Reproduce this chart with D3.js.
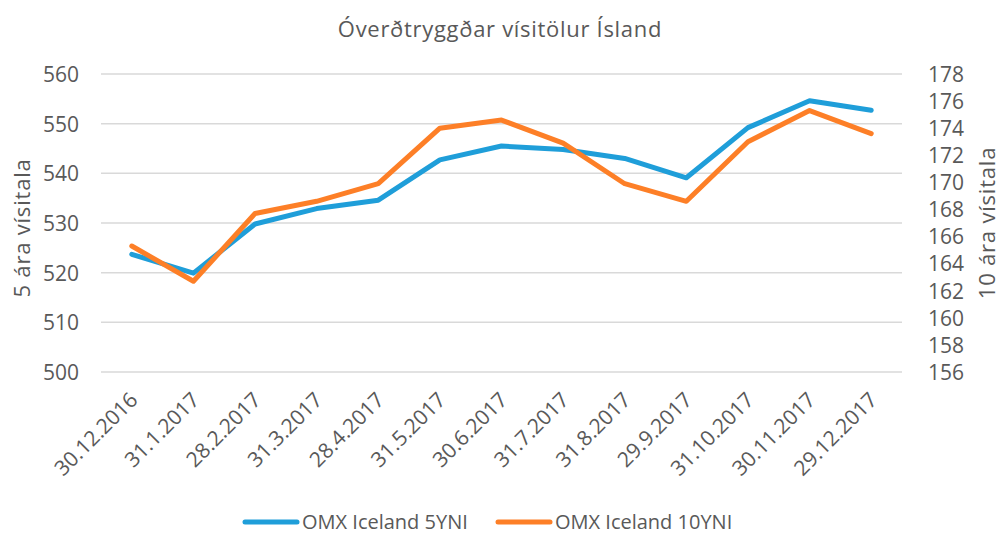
<!DOCTYPE html>
<html>
<head>
<meta charset="utf-8">
<script src="https://cdn.jsdelivr.net/npm/d3@7"></script>
<style>
  body { margin: 0; background: #fff; }
  text { font-family: "Open Sans", sans-serif; fill: #595959; }
</style>
</head>
<body>
<svg id="chart" width="1000" height="535"></svg>
<script>
const dates = ['30.12.2016', '31.1.2017', '28.2.2017', '31.3.2017', '28.4.2017', '31.5.2017',
    '30.6.2017', '31.7.2017', '31.8.2017', '29.9.2017', '31.10.2017', '30.11.2017', '29.12.2017'];

// 5 ára vísitala (left axis)
const omx5 = [523.7, 519.9, 529.8, 532.9, 534.6, 542.7, 545.5, 544.8, 543.0, 539.1, 549.2, 554.6, 552.7];
// 10 ára vísitala (right axis)
const omx10 = [165.3, 162.7, 167.7, 168.6, 169.9, 174.0, 174.6, 172.9, 169.9, 168.6, 173.0, 175.3, 173.6];

const leftTicks = [500, 510, 520, 530, 540, 550, 560];
const rightTicks = [156, 158, 160, 162, 164, 166, 168, 170, 172, 174, 176, 178];

const seriesNames = ['OMX Iceland 5YNI', 'OMX Iceland 10YNI'];
const colors = ['#1f9ed9', '#fd7f27'];

const svg = d3.select('#chart');
const margin = { left: 101, right: 98, top: 74, bottom: 163 };
const width = 1000 - margin.left - margin.right;
const height = 535 - margin.top - margin.bottom;

const g = svg.append('g').attr('transform', `translate(${margin.left},${margin.top})`);

const x = d3.scaleBand().domain(dates).range([0, width]);
const yLeft = d3.scaleLinear().domain([500, 560]).range([height, 0]);
const yRight = d3.scaleLinear().domain([156, 178]).range([height, 0]);

// gridlines
g.selectAll('.grid')
    .data(leftTicks)
    .enter()
    .append('line')
    .attr('x1', 0)
    .attr('x2', width)
    .attr('y1', d => yLeft(d))
    .attr('y2', d => yLeft(d))
    .attr('stroke', '#d9d9d9')
    .attr('stroke-width', 1.5);

// left axis
const axL = g.append('g')
    .call(d3.axisLeft(yLeft).tickValues(leftTicks).tickSize(0).tickPadding(22));
axL.select('.domain').remove();
axL.selectAll('text').attr('font-size', '21px').attr('dy', '0.35em');

// right axis
const axR = g.append('g')
    .attr('transform', `translate(${width},0)`)
    .call(d3.axisRight(yRight).tickValues(rightTicks).tickSize(0).tickPadding(26));
axR.select('.domain').remove();
axR.selectAll('text').attr('font-size', '21px').attr('dy', '0.35em');

// bottom axis
const axB = g.append('g')
    .attr('transform', `translate(0,${height})`)
    .call(d3.axisBottom(x).tickSize(0).tickPadding(0));
axB.select('.domain').remove();
axB.selectAll('text')
    .attr('font-size', '21px')
    .attr('text-anchor', 'end')
    .attr('dy', '0.35em')
    .attr('transform', 'translate(2,24) rotate(-45)');

axL.selectAll('text').style('fill', '#595959');
axR.selectAll('text').style('fill', '#595959');
axB.selectAll('text').style('fill', '#595959');

// lines
const lineL = d3.line()
    .x((d, i) => x(dates[i]) + x.bandwidth() / 2)
    .y(d => yLeft(d));
const lineR = d3.line()
    .x((d, i) => x(dates[i]) + x.bandwidth() / 2)
    .y(d => yRight(d));

g.append('path')
    .datum(omx5)
    .attr('fill', 'none')
    .attr('stroke', colors[0])
    .attr('stroke-width', 5)
    .attr('stroke-linejoin', 'round')
    .attr('stroke-linecap', 'round')
    .attr('d', lineL);

g.append('path')
    .datum(omx10)
    .attr('fill', 'none')
    .attr('stroke', colors[1])
    .attr('stroke-width', 5)
    .attr('stroke-linejoin', 'round')
    .attr('stroke-linecap', 'round')
    .attr('d', lineR);

// title
svg.append('text')
    .attr('x', 500)
    .attr('y', 37)
    .attr('text-anchor', 'middle')
    .attr('font-size', '22px')
    .attr('letter-spacing', '0.7px')
    .text('Óverðtryggðar vísitölur Ísland');

// axis titles
svg.append('text')
    .attr('transform', 'translate(30,228) rotate(-90)')
    .attr('text-anchor', 'middle')
    .attr('font-size', '22px')
    .attr('letter-spacing', '0.8px')
    .text('5 ára vísitala');

svg.append('text')
    .attr('transform', 'translate(995,223) rotate(-90)')
    .attr('text-anchor', 'middle')
    .attr('font-size', '22px')
    .attr('letter-spacing', '0.8px')
    .text('10 ára vísitala');

// legend
const legendX = [245, 498];
const legend = svg.selectAll('.legend')
    .data(seriesNames)
    .enter()
    .append('g')
    .attr('transform', (d, i) => `translate(${legendX[i]},522)`);

legend.append('line')
    .attr('x1', 0)
    .attr('x2', 52)
    .attr('stroke', (d, i) => colors[i])
    .attr('stroke-width', 5)
    .attr('stroke-linecap', 'round');

legend.append('text')
    .attr('x', 57)
    .attr('dy', '0.35em')
    .attr('font-size', '20px')
    .text(d => d);
</script>
</body>
</html>
